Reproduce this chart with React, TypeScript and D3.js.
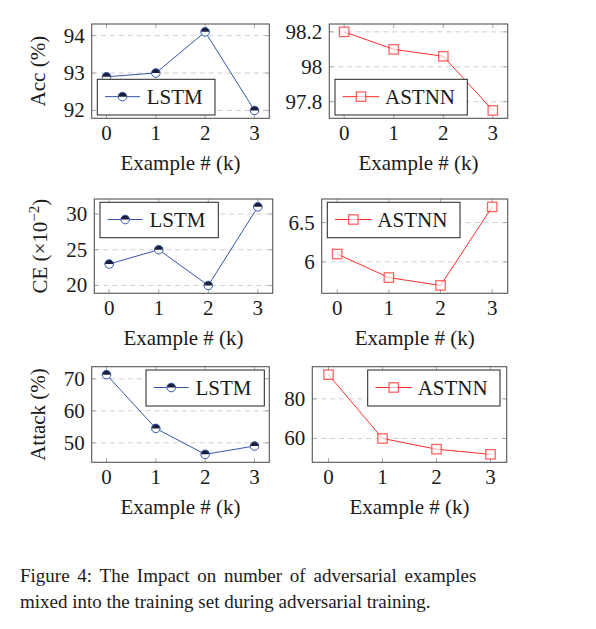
import React from "react";
import * as d3 from "d3";

const xValues = [0, 1, 2, 3];
const xTickLabels = ["0", "1", "2", "3"];

const accLSTM = [92.9, 93.0, 94.1, 92.0];
const accASTNN = [98.2, 98.1, 98.06, 97.75];
const ceLSTM = [23, 25, 20, 31];
const ceASTNN = [6.1, 5.8, 5.7, 6.7];
const attackLSTM = [71.3, 54.5, 46.4, 49];
const attackASTNN = [92.2, 60, 54.6, 52];

const accLSTMTicks = [92, 93, 94];
const accASTNNTicks = [97.8, 98, 98.2];
const ceLSTMTicks = [20, 25, 30];
const ceASTNNTicks = [6, 6.5];
const attackLSTMTicks = [50, 60, 70];
const attackASTNNTicks = [60, 80];

const xLabel = "Example # (k)";
const captionLines = [
  "Figure 4: The Impact on number of adversarial examples",
  "mixed into the training set during adversarial training.",
];

const BLUE = "#3556a8";
const NAVY = "#1c1f3a";
const RED = "#ff3030";
const FONT = "'Liberation Serif', 'Times New Roman', serif";

type Box = { l: number; t: number; r: number; b: number };
type Leg = { x: number; y: number; w: number; h: number };

function fmt(v: number) {
  return String(v);
}

function Panel(props: {
  box: Box;
  values: number[];
  ticks: number[];
  kind: "lstm" | "astnn";
  legend: Leg;
  yLabel?: React.ReactNode;
  yLabelX?: number;
}) {
  const { box, values, ticks, kind, legend } = props;
  const xExt = d3.extent(xValues) as [number, number];
  const xPad = (xExt[1] - xExt[0]) * 0.1;
  const x = d3.scaleLinear().domain([xExt[0] - xPad, xExt[1] + xPad]).range([box.l, box.r]);
  const yExt = d3.extent(values) as [number, number];
  const yPad = (yExt[1] - yExt[0]) * 0.1;
  const y = d3.scaleLinear().domain([yExt[0] - yPad, yExt[1] + yPad]).range([box.b, box.t]);
  const pts: [number, number][] = values.map((v, i) => [x(xValues[i]), y(v)]);
  const line = d3.line()(pts) || "";
  const color = kind === "lstm" ? BLUE : RED;
  const tickLen = 4;

  const marker = (cx: number, cy: number, key: string) => {
    if (kind === "lstm") {
      const r = 4.3;
      const top = d3.arc()({ innerRadius: 0, outerRadius: r, startAngle: -Math.PI / 2, endAngle: Math.PI / 2 }) || "";
      return (
        <g key={key} transform={`translate(${cx},${cy})`}>
          <circle r={r} fill="#fff" />
          <path d={top} fill={NAVY} />
          <circle r={r} fill="none" stroke={BLUE} strokeWidth={1} />
        </g>
      );
    }
    const s = 9.4;
    return (
      <rect
        key={key}
        x={cx - s / 2}
        y={cy - s / 2}
        width={s}
        height={s}
        fill="#fff"
        fillOpacity={0.6}
        stroke={RED}
        strokeOpacity={0.75}
        strokeWidth={1.3}
      />
    );
  };

  const lx1 = legend.x + 7.7;
  const lx2 = legend.x + (kind === "lstm" ? 42.7 : 44.3);
  const ly = legend.y + legend.h / 2 - 0.5;
  return (
    <g>
      {/* grid */}
      {ticks.map((t) => (
        <line key={"g" + t} x1={box.l} x2={box.r} y1={y(t)} y2={y(t)} stroke="#cfcfcf" strokeWidth={1} strokeDasharray="5 4" />
      ))}
      {/* ticks */}
      {xValues.map((v) => (
        <g key={"xt" + v} stroke="#a8a8a8" strokeWidth={1}>
          <line x1={x(v)} x2={x(v)} y1={box.b} y2={box.b - tickLen} />
          <line x1={x(v)} x2={x(v)} y1={box.t} y2={box.t + tickLen} />
        </g>
      ))}
      {ticks.map((t) => (
        <g key={"yt" + t} stroke="#a8a8a8" strokeWidth={1}>
          <line x1={box.l} x2={box.l + tickLen} y1={y(t)} y2={y(t)} />
          <line x1={box.r} x2={box.r - tickLen} y1={y(t)} y2={y(t)} />
        </g>
      ))}
      {/* data */}
      <path d={line} fill="none" stroke={color} strokeWidth={1} />
      {pts.map((p, i) => marker(p[0], p[1], "m" + i))}
      {/* frame */}
      <rect x={box.l} y={box.t} width={box.r - box.l} height={box.b - box.t} fill="none" stroke="#555" strokeWidth={1.1} />
      {/* tick labels */}
      {ticks.map((t) => (
        <text key={"yl" + t} x={box.l - 7} y={y(t) + 7} textAnchor="end" fontFamily={FONT} fontSize={21} fill="#1a1a1a">
          {fmt(t)}
        </text>
      ))}
      {xValues.map((v, i) => (
        <text key={"xl" + v} x={x(v)} y={box.b + 21.7} textAnchor="middle" fontFamily={FONT} fontSize={21} fill="#1a1a1a">
          {xTickLabels[i]}
        </text>
      ))}
      <text x={(box.l + box.r) / 2} y={box.b + 51.7} textAnchor="middle" fontFamily={FONT} fontSize={21} fill="#1a1a1a">
        {xLabel}
      </text>
      {props.yLabel && (
        <text
          transform={`translate(${props.yLabelX},${(box.t + box.b) / 2}) rotate(-90)`}
          textAnchor="middle"
          fontFamily={FONT}
          fontSize={21}
          fill="#1a1a1a"
        >
          {props.yLabel}
        </text>
      )}
      {/* legend */}
      <rect x={legend.x} y={legend.y} width={legend.w} height={legend.h} fill="#fff" stroke="#222" strokeWidth={1} />
      <line x1={lx1} x2={lx2} y1={ly} y2={ly} stroke={color} strokeWidth={1} />
      {marker((lx1 + lx2) / 2, ly, "lm")}
      <text x={legend.x + (kind === "lstm" ? 49.4 : 50)} y={legend.y + legend.h / 2 + 7} fontFamily={FONT} fontSize={21} fill="#1a1a1a">
        {kind === "lstm" ? "LSTM" : "ASTNN"}
      </text>
    </g>
  );
}

export default function App() {
  return (
    <svg
      width={596}
      height={629}
      viewBox="0 0 596 629"
      style={{ position: "absolute", left: 0, top: 0, background: "#fff", display: "block" }}
    >
      <rect width={596} height={629} fill="#fff" />
      <Panel
        box={{ l: 91.7, t: 24, r: 269.3, b: 118.3 }}
        values={accLSTM}
        ticks={accLSTMTicks}
        kind="lstm"
        legend={{ x: 97.3, y: 79.3, w: 117.7, h: 35.7 }}
        yLabel="Acc (%)"
        yLabelX={45}
      />
      <Panel
        box={{ l: 329.3, t: 24, r: 507.7, b: 118.3 }}
        values={accASTNN}
        ticks={accASTNNTicks}
        kind="astnn"
        legend={{ x: 335, y: 79.3, w: 132.3, h: 35.7 }}
      />
      <Panel
        box={{ l: 94.3, t: 199, r: 272.7, b: 293.3 }}
        values={ceLSTM}
        ticks={ceLSTMTicks}
        kind="lstm"
        legend={{ x: 100, y: 202.3, w: 118.3, h: 35.4 }}
        yLabel={
          <>
            CE (×10
            <tspan dy={-8} fontSize={15}>−2</tspan>
            <tspan dy={8}>)</tspan>
          </>
        }
        yLabelX={47}
      />
      <Panel
        box={{ l: 321.7, t: 199, r: 507.7, b: 293.3 }}
        values={ceASTNN}
        ticks={ceASTNNTicks}
        kind="astnn"
        legend={{ x: 327.3, y: 202.3, w: 132.7, h: 35.4 }}
      />
      <Panel
        box={{ l: 91.7, t: 366.7, r: 269.3, b: 462.3 }}
        values={attackLSTM}
        ticks={attackLSTMTicks}
        kind="lstm"
        legend={{ x: 146, y: 370, w: 118.3, h: 36 }}
        yLabel="Attack (%)"
        yLabelX={45}
      />
      <Panel
        box={{ l: 312.3, t: 366.7, r: 506.7, b: 462.3 }}
        values={attackASTNN}
        ticks={attackASTNNTicks}
        kind="astnn"
        legend={{ x: 367.7, y: 370, w: 132.3, h: 36 }}
      />
      <text x={20} y={581.7} fontFamily={FONT} fontSize={19} fill="#1a1a1a" wordSpacing={3}>
        {captionLines[0]}
      </text>
      <text x={20} y={608.3} fontFamily={FONT} fontSize={19} fill="#1a1a1a">
        {captionLines[1]}
      </text>
    </svg>
  );
}
